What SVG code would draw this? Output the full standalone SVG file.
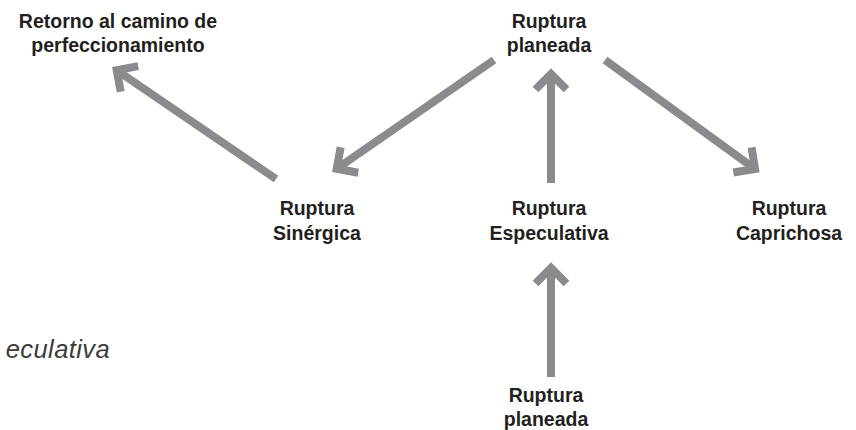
<svg xmlns="http://www.w3.org/2000/svg" width="856" height="430" viewBox="0 0 856 430">
  <defs>
    <!-- open chevron arrowhead, drawn with the same thick stroke as the shafts -->
    <marker id="chev" markerUnits="userSpaceOnUse" markerWidth="60" markerHeight="60" refX="0" refY="0" orient="auto" overflow="visible" viewBox="-30 -30 60 60">
      <path d="M-15.5,-15.5 L0,0 L-15.5,15.5" fill="none" stroke="#8a8b8e" stroke-width="8" stroke-linejoin="miter" stroke-miterlimit="10"/>
    </marker>
  </defs>
  <style>
    .lbl { font-family: "Liberation Sans", Arial, Helvetica, sans-serif; font-size: 19.5px; font-weight: bold; fill: #231f20; text-anchor: middle; }
    .ital { font-family: "Liberation Sans", Arial, Helvetica, sans-serif; font-size: 25.5px; font-style: italic; letter-spacing: 0.4px; fill: #3c3c3c; text-anchor: end; }
    .arr { fill: none; stroke: #8a8b8e; stroke-width: 8; marker-end: url(#chev); }
  </style>
  <rect width="856" height="430" fill="#ffffff"/>

  <g id="connectors">
    <line class="arr" x1="276" y1="179" x2="116.7" y2="70.2"/>
    <line class="arr" x1="494" y1="60" x2="336.7" y2="168.8"/>
    <line class="arr" x1="551" y1="183" x2="551" y2="74"/>
    <line class="arr" x1="605" y1="60" x2="755" y2="169"/>
    <line class="arr" x1="551" y1="377" x2="551" y2="268"/>
  </g>

  <g id="retorno">
    <text class="lbl" x="118" y="28">Retorno al camino de</text>
    <text class="lbl" x="118" y="52">perfeccionamiento</text>
  </g>
  <g id="planeada-top">
    <text class="lbl" x="549" y="28">Ruptura</text>
    <text class="lbl" x="549" y="52">planeada</text>
  </g>
  <g id="sinergica">
    <text class="lbl" x="317" y="215">Ruptura</text>
    <text class="lbl" x="317" y="240">Sinérgica</text>
  </g>
  <g id="especulativa">
    <text class="lbl" x="549" y="215">Ruptura</text>
    <text class="lbl" x="549" y="240">Especulativa</text>
  </g>
  <g id="caprichosa">
    <text class="lbl" x="789" y="215">Ruptura</text>
    <text class="lbl" x="789" y="240">Caprichosa</text>
  </g>
  <g id="planeada-bottom">
    <text class="lbl" x="546" y="402">Ruptura</text>
    <text class="lbl" x="546" y="426">planeada</text>
  </g>
  <g id="especulativa-side">
    <text class="ital" x="110" y="358">eculativa</text>
  </g>
</svg>
